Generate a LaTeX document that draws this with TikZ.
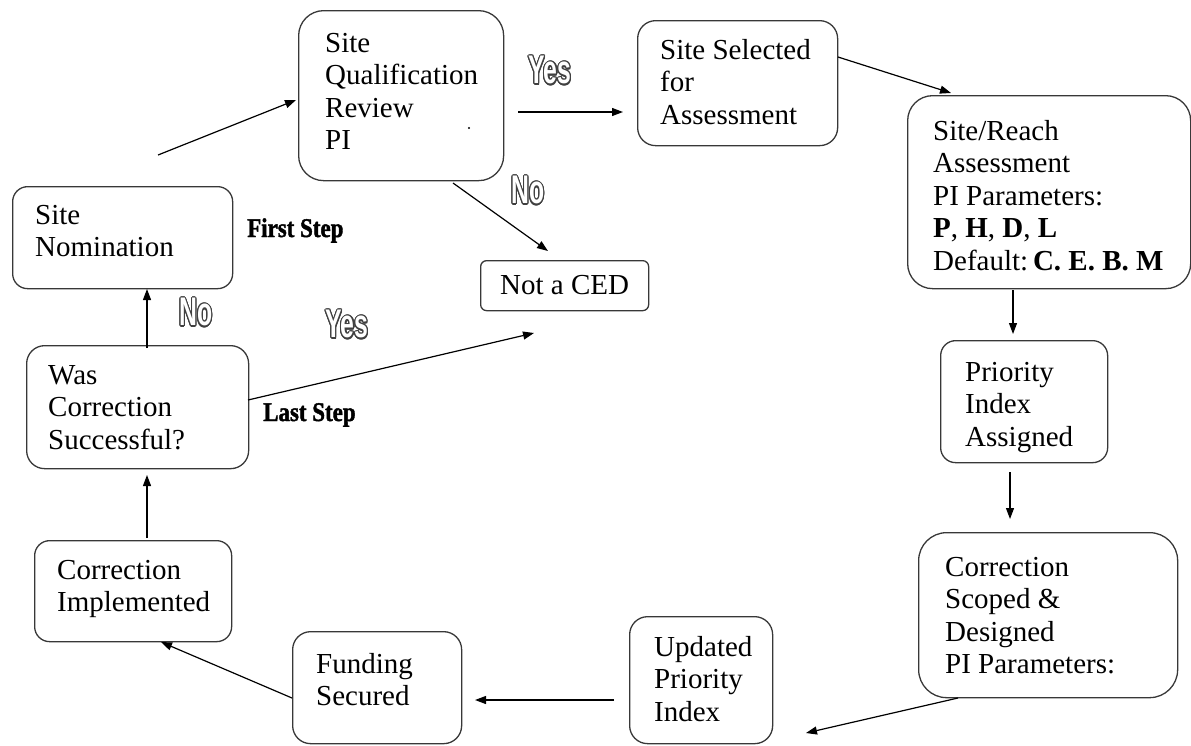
\documentclass[tikz,border=0pt]{standalone}
\usepackage{fontspec}
\setmainfont{Liberation Serif}
\newfontfamily\ynfont[FakeStretch=0.62]{Liberation Sans}
\newfontfamily\stepfont[FakeStretch=0.85,FakeBold=1.5]{Liberation Serif}
\usepackage{contour}
\contourlength{1.2pt}
\usetikzlibrary{arrows.meta}
\tikzset{
  box/.style={draw=black!78, line width=1.3pt, anchor=north west, inner sep=0pt},
  txt/.style={font=\fontsize{29}{32.5}\selectfont, align=left, inner sep=0pt, anchor=north west},
  arr/.style={-{Triangle[length=11pt,width=8pt]}, line width=1.2pt},
  yn/.style={font=\fontsize{40}{40}\ynfont\bfseries, text=white, inner sep=0pt},
  stepl/.style={font=\fontsize{27}{27}\stepfont\bfseries, inner sep=0pt, anchor=base west}
}
\newcommand{\bx}[6]{\node[box, rounded corners=#6pt, minimum width=#4pt, minimum height=#5pt] (#1) at (#2,#3) {};}
\begin{document}
\begin{tikzpicture}[x=1pt,y=-1pt]
\useasboundingbox (0,0) rectangle (1191,745);
% boxes: name, x, y, w, h, radius
\bx{q}{298}{10}{205}{170}{25}
\bx{sel}{637}{20}{200}{125}{18}
\bx{sr}{907}{95}{283}{193}{25}
\bx{sn}{12}{186}{220}{102}{15}
\bx{nc}{480}{260}{168}{50}{6}
\bx{was}{26}{345}{222}{123}{18}
\bx{pia}{940}{340}{167}{122}{15}
\bx{ci}{34}{540}{197}{101}{15}
\bx{cs}{918}{532}{259}{165}{28}
\bx{up}{629}{616}{143}{127}{18}
\bx{fs}{292}{631}{169}{112}{18}
% texts
\node[txt] (tq) at (325,30) {\rule{0pt}{22pt}Site\\Qualification\\Review\\PI};
\node[txt] (tsel) at (660,37) {\rule{0pt}{22pt}Site Selected\\for\\Assessment};
\node[txt] (tsr) at (933,118) {\rule{0pt}{22pt}Site/Reach\\Assessment\\PI Parameters:\\\textbf{P}, \textbf{H}, \textbf{D}, \textbf{L}\\Default:\,\textbf{C. E. B. M}};
\node[txt] (tsn) at (35,202) {\rule{0pt}{22pt}Site\\Nomination};
\node[txt] (tnc) at (500,272) {\rule{0pt}{22pt}Not a CED};
\node[txt] (twas) at (48,362) {\rule{0pt}{22pt}Was\\Correction\\Successful?};
\node[txt] (tpia) at (965,359) {\rule{0pt}{22pt}Priority\\Index\\Assigned};
\node[txt] (tci) at (57,557) {\rule{0pt}{22pt}Correction\\Implemented};
\node[txt] (tcs) at (945,554) {\rule{0pt}{22pt}Correction\\Scoped \&\\Designed\\PI Parameters:};
\node[txt] (tup) at (654,634) {\rule{0pt}{22pt}Updated\\Priority\\Index};
\node[txt] (tfs) at (316,651) {\rule{0pt}{22pt}Funding\\Secured};
% labels
\node[yn] (yes1) at (550,71) {\contour{black!75}{Yes}};
\node[yn] (no1) at (528,191) {\contour{black!75}{No}};
\node[yn] (no2) at (196,313) {\contour{black!75}{No}};
\node[yn] (yes2) at (347,325) {\contour{black!75}{Yes}};
\node[stepl] (first) at (247,237) {First Step};
\node[stepl] (last) at (263,421) {Last Step};
\fill (469,128) circle (1.2);
% connector end points
\coordinate (a1s) at (158,155); \coordinate (a1e) at (296,100);
\coordinate (a2s) at (518,112); \coordinate (a2e) at (623,112);
\coordinate (a3s) at (838,57);  \coordinate (a3e) at (951,93);
\coordinate (a4s) at (453,183); \coordinate (a4e) at (548,251);
\coordinate (a5s) at (1013,290); \coordinate (a5e) at (1013,334);
\coordinate (a6s) at (1010,472); \coordinate (a6e) at (1010,519);
\coordinate (a7s) at (958,698); \coordinate (a7e) at (806,733);
\coordinate (a8s) at (614,700); \coordinate (a8e) at (475,700);
\coordinate (a9s) at (292,698); \coordinate (a9e) at (161,642);
\coordinate (a10s) at (147,538); \coordinate (a10e) at (147,475);
\coordinate (a11s) at (147,348); \coordinate (a11e) at (147,289);
\coordinate (a12s) at (248,400); \coordinate (a12e) at (534,333);
\draw[arr] (a1s) -- (a1e);
\draw[arr] (a2s) -- (a2e);
\draw[arr] (a3s) -- (a3e);
\draw[arr] (a4s) -- (a4e);
\draw[arr] (a5s) -- (a5e);
\draw[arr] (a6s) -- (a6e);
\draw[arr] (a7s) -- (a7e);
\draw[arr] (a8s) -- (a8e);
\draw[arr] (a9s) -- (a9e);
\draw[arr] (a10s) -- (a10e);
\draw[arr] (a11s) -- (a11e);
\draw[arr] (a12s) -- (a12e);
\end{tikzpicture}
\end{document}
